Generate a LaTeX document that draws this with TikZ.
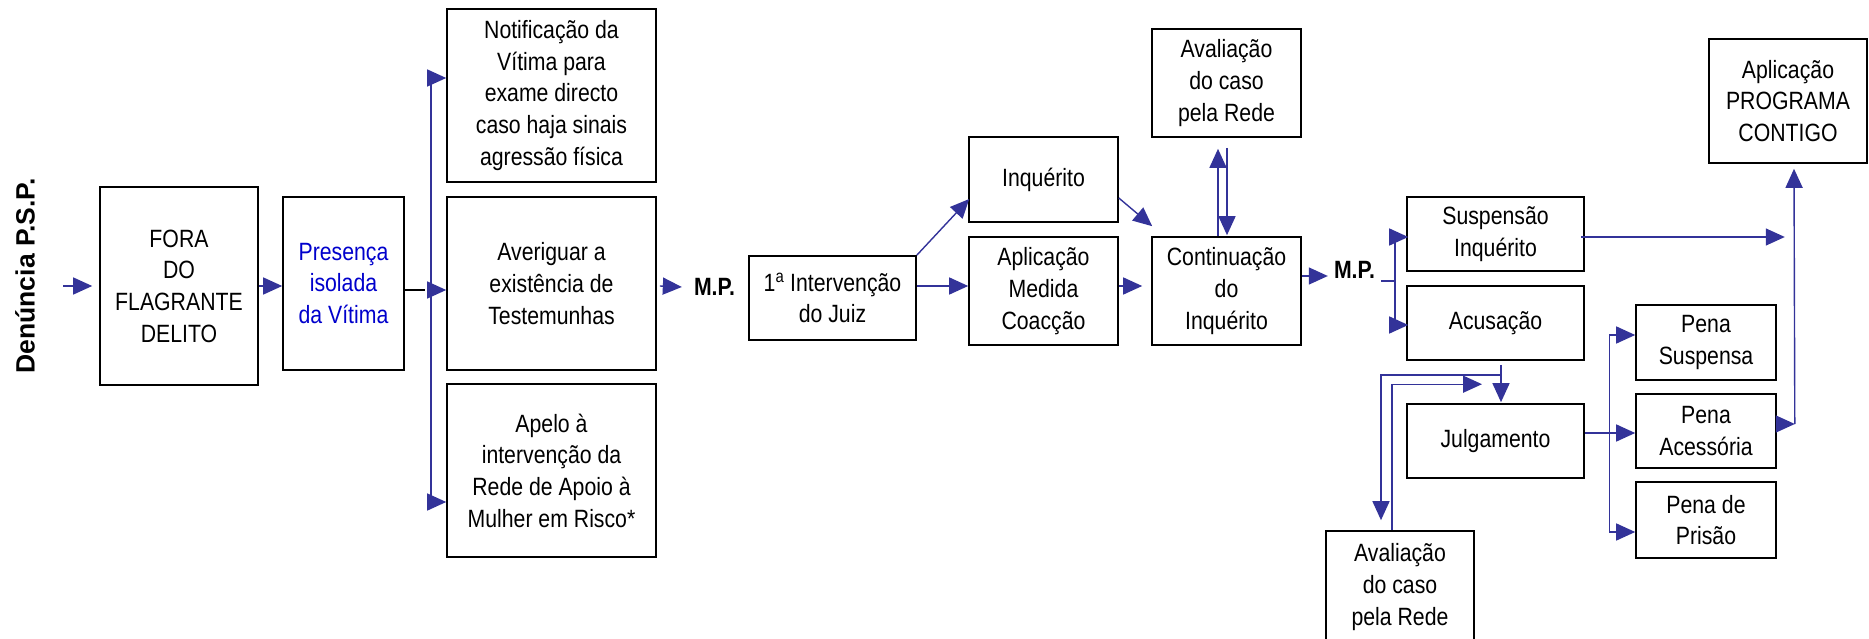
\documentclass[tikz,border=0pt]{standalone}
\usepackage{fontspec}
\setmainfont{Liberation Sans}[FakeStretch=0.85]
\newfontfamily\widesans{Liberation Sans}
\usetikzlibrary{arrows.meta,calc}
\definecolor{flow}{RGB}{51,51,153}
\definecolor{note}{RGB}{0,0,204}
\tikzset{
  box/.style={draw=black, line width=1.6pt, inner sep=0pt, align=center,
    font=\fontsize{25}{31.7}\selectfont},
  link/.style={draw=flow, line width=1.4pt},
  arr/.style={link, -{Triangle[length=19pt 0 0,width=17pt 0 0]}},
  mplabel/.style={inner sep=0pt, font=\fontsize{25}{30}\selectfont\bfseries},
}
\begin{document}
\begin{tikzpicture}[x=1pt,y=-1pt]
\useasboundingbox (0,0) rectangle (1869,639);
\clip (0,0) rectangle (1869,639);

% title on the left
\node[rotate=90, inner sep=0pt, font=\widesans\fontsize{26.5}{30}\selectfont\bfseries] (den) at (25,276) {Denúncia P.S.P.};

% first stage
\node[box, minimum width=158pt, minimum height=198pt] (fora) at (179,286) {FORA\\DO\\FLAGRANTE\\DELITO};
\node[box, minimum width=121pt, minimum height=173pt, text=note] (pres) at (343.5,283.5) {Presença\\isolada\\da Vítima};
\node[box, minimum width=209pt, minimum height=173pt] (notif) at (551.5,95.5) {Notificação da\\Vítima para\\exame directo\\caso haja sinais\\agressão física};
\node[box, minimum width=209pt, minimum height=173pt] (aver) at (551.5,283.5) {Averiguar a\\existência de\\Testemunhas};
\node[box, minimum width=209pt, minimum height=173pt] (apelo) at (551.5,470.5) {Apelo à\\intervenção da\\Rede de Apoio à\\Mulher em Risco*};

% judge and inquiry
\node[mplabel] (mp1) at (714.5,287) {M.P.};
\node[box, minimum width=167pt, minimum height=84pt] (juiz) at (832.5,298) {1\textsuperscript{a} Intervenção\\do Juiz};
\node[box, minimum width=149pt, minimum height=85pt] (inq) at (1043.5,179.5) {Inquérito};
\node[box, minimum width=149pt, minimum height=108pt] (med) at (1043.5,291) {Aplicação\\Medida\\Coacção};
\node[box, minimum width=149pt, minimum height=108pt] (cont) at (1226.5,291) {Continuação\\do\\Inquérito};
\node[box, minimum width=149pt, minimum height=108pt] (aval1) at (1226.5,83) {Avaliação\\do caso\\pela Rede};

% decision and sentences
\node[mplabel] (mp2) at (1354.5,270) {M.P.};
\node[box, minimum width=177pt, minimum height=74pt] (susp) at (1495.5,234) {Suspensão\\Inquérito};
\node[box, minimum width=177pt, minimum height=74pt] (acus) at (1495.5,323) {Acusação};
\node[box, minimum width=177pt, minimum height=74pt] (julg) at (1495.5,441) {Julgamento};
\node[box, minimum width=148pt, minimum height=112pt] (aval2) at (1400,587) {Avaliação\\do caso\\pela Rede};
\node[box, minimum width=140pt, minimum height=75pt] (psus) at (1706,342.5) {Pena\\Suspensa};
\node[box, minimum width=140pt, minimum height=74pt] (pace) at (1706,431) {Pena\\Acessória};
\node[box, minimum width=140pt, minimum height=76pt] (ppri) at (1706,520) {Pena de\\Prisão};
\node[box, minimum width=158pt, minimum height=124pt] (prog) at (1788,101) {Aplicação\\PROGRAMA\\CONTIGO};

% entry arrow
\coordinate (in0) at ($(fora.west)+(-36,0)$);
\draw[arr] (in0) -- ($(fora.west)+(-7,0)$);
\draw[arr] (fora.east) -- (fora.east -| pres.west);

% fan-out to the three actions
\coordinate (t2) at ($(pres.east)+(26,6.5)$);
\coordinate (t1) at (t2 |- {$(notif.west)+(0,-17.5)$});
\coordinate (t3) at (t2 |- {$(apelo.west)+(0,31.5)$});
\draw[line width=1.3pt, black] ($(pres.east)+(0,6.5)$) -- ($(t2)+(-6,0)$);
\draw[link] (t1) -- (t3);
\draw[arr] (t1) -- (t1 -| notif.west);
\draw[arr] (t2) -- (t2 -| aver.west);
\draw[arr] (t3) -- (t3 -| apelo.west);

\draw[arr] ($(aver.east)+(3,2.5)$) -- ($(mp1.west)+(-12,0)$);

% judge to inquiry and coercive measure
\draw[arr] (juiz.north east) -- ($(inq.west)+(1,19.5)$);
\coordinate (j1) at ($(juiz.east)+(0,-12)$);
\draw[arr] (j1) -- (j1 -| med.west);
\draw[arr] ($(inq.east)+(0,18.5)$) -- ($(cont.north west)+(1,-10)$);
\draw[arr] ($(med.east)+(0,-5)$) -- ($(cont.west)+(-9,-5)$);

% continuation and network evaluation
\draw[arr] ($(cont.north)+(-8.5,0)$) -- ($(aval1.south)+(-8.5,11)$);
\draw[arr] ($(aval1.south)+(0.5,10)$) -- ($(cont.north)+(0.5,-1)$);
\draw[arr] ($(cont.east)+(0,-15)$) -- ($(mp2.west)+(-6,6)$);

% public prosecutor decision
\coordinate (m2) at ($(mp2.east)+(20,11)$);
\coordinate (s1) at (m2 |- {$(susp.west)+(0,3)$});
\coordinate (s2) at (m2 |- {$(acus.west)+(0,2)$});
\draw[link] ($(mp2.east)+(6,11)$) -- (m2);
\draw[link] (s1) -- (s2);
\draw[arr] (s1) -- ($(s1 -| susp.west)+(2,0)$);
\draw[arr] (s2) -- ($(s2 -| acus.west)+(2,0)$);

% accusation, judgement and network evaluation
\draw[arr] ($(acus.south)+(5.5,4)$) -- ($(julg.north)+(5.5,-1)$);
\coordinate (c1) at ($(acus.south)+(5.5,14)$);
\draw[arr] (c1) -| ($(aval2.north)+(-19,-10)$);
\draw[arr] ($(aval2.north)+(-8,0)$) |- ($(julg.north)+(-13.5,-19)$);

% sentences
\coordinate (jb) at ($(julg.east)+(26,-8)$);
\draw[link] ($(julg.east)+(0,-8)$) -- (jb);
\draw[arr] (jb) -- (jb -| pace.west);
\coordinate (jt) at ($(psus.west)+(-26,-7.5)$);
\coordinate (jd) at ($(ppri.west)+(-26,12)$);
\draw[link] (jt) -- (jd);
\draw[arr] (jt) -- (jt -| psus.west);
\draw[arr] (jd) -- (jd -| ppri.west);

% towards the CONTIGO programme
\draw[arr] ($(susp.east)+(-4,3)$) -- ++(204,0);
\coordinate (pv) at ($(pace.east)+(18,-7)$);
\draw[arr] ($(pace.east)+(0,-7)$) -- (pv);
\draw[arr] (pv) -- ($(prog.south)+(6,5)$);
\end{tikzpicture}
\end{document}
